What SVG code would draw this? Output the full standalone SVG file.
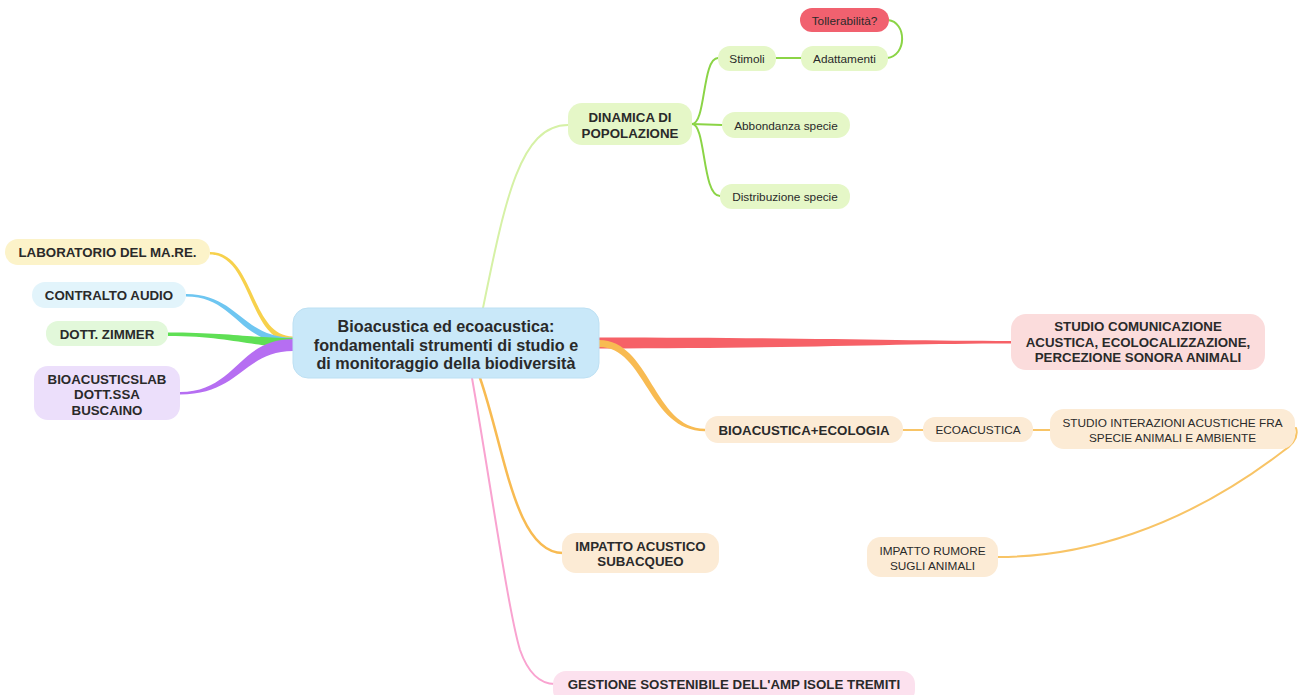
<svg xmlns="http://www.w3.org/2000/svg" width="1301" height="695" viewBox="0 0 1301 695">
<style>
text{font-family:"Liberation Sans",Arial,sans-serif;fill:#2a2a2a;text-anchor:middle}
.b{font-weight:bold;font-size:13.3px}
.s{font-size:11.8px}
.c{font-weight:bold;font-size:16.2px}
.line{fill:none;stroke-linecap:round}
</style>
<rect width="1301" height="695" fill="#ffffff"/>
<g id="connectors">
  <path d="M210,252 C255,252 250,336.5 293,336.5 L293,342 C248,342 252,254.5 210,254.5 Z" fill="#f7d14c"/>
  <path d="M186,294 C238,294 242,337.5 293,337.5 L293,344 C238,344 236,296.5 186,296.5 Z" fill="#6ec6f1"/>
  <path d="M168,332.5 C230,332.5 250,338 293,338 L293,347 C250,347 230,336 168,336 Z" fill="#5fdf55"/>
  <path d="M180,392 C236,392 238,339 293,339 L293,351 C244,351 240,394.5 180,394.5 Z" fill="#b66ef2"/>
  <path d="M599,337.5 C800,337.5 900,341 1011,341 L1011,343.5 C900,343.5 800,348.5 599,348.5 Z" fill="#f66167"/>
  <path d="M599,340 C650,340 654,428.8 705,428.8 L705,431.2 C648,431.2 646,347 599,347 Z" fill="#f8bb52"/>
  <path class="line" d="M483,308 C505,200 520,125 568,125" stroke="#d6f1a6" stroke-width="2"/>
  <path class="line" d="M692,124 C706,124 702,58 718,58" stroke="#8bd446" stroke-width="2"/>
  <path class="line" d="M692,124 L722,125" stroke="#8bd446" stroke-width="2"/>
  <path class="line" d="M692,124 C706,124 702,196 720,196" stroke="#8bd446" stroke-width="2"/>
  <path class="line" d="M776,58 L801,58" stroke="#8bd446" stroke-width="2"/>
  <path class="line" d="M887,58 C907,56 907,22 888,20" stroke="#8bd446" stroke-width="2"/>
  <path class="line" d="M903,430 L923,430" stroke="#f8c466" stroke-width="2"/>
  <path class="line" d="M1033,430 L1050,430" stroke="#f8c466" stroke-width="2"/>
  <path class="line" d="M1296,428 Q1300,440 1282,452 C1180,530 1080,557 998,557" stroke="#f8c466" stroke-width="2"/>
  <path class="line" d="M480,378 C505,450 515,553 563,553" stroke="#f8bb52" stroke-width="2.5"/>
  <path class="line" d="M472,378 C490,480 508,610 520,650 Q532,684 555,684" stroke="#f9a3d0" stroke-width="2"/>
</g>
<g id="central">
  <rect x="293" y="308" width="306" height="70" rx="15" fill="#c9e8f9" stroke="#bde0f3"/>
  <text class="c" x="446" y="332">Bioacustica ed ecoacustica:</text>
  <text class="c" x="446" y="350.5">fondamentali strumenti di studio e</text>
  <text class="c" x="446" y="369">di monitoraggio della biodiversità</text>
</g>
<g id="dinamica">
  <rect x="568" y="103" width="124" height="42" rx="14" fill="#e5f7c7"/>
  <text class="b" x="630" y="121.5">DINAMICA DI</text>
  <text class="b" x="630" y="137.5">POPOLAZIONE</text>
</g>
<g id="stimoli">
  <rect x="718" y="46" width="58" height="25" rx="12" fill="#e5f7c7"/>
  <text class="s" x="747" y="62.5">Stimoli</text>
</g>
<g id="adattamenti">
  <rect x="801" y="46" width="87" height="25" rx="12" fill="#e5f7c7"/>
  <text class="s" x="844.5" y="62.5">Adattamenti</text>
</g>
<g id="tollerabilita">
  <rect x="800" y="8" width="89" height="24" rx="12" fill="#f1616f"/>
  <text class="s" x="844.5" y="24.5">Tollerabilità?</text>
</g>
<g id="abbondanza">
  <rect x="722" y="112" width="128" height="26" rx="13" fill="#e5f7c7"/>
  <text class="s" x="786" y="129.5">Abbondanza specie</text>
</g>
<g id="distribuzione">
  <rect x="720" y="184" width="130" height="25" rx="12" fill="#e5f7c7"/>
  <text class="s" x="785" y="200.5">Distribuzione specie</text>
</g>
<g id="laboratorio">
  <rect x="5" y="239" width="205" height="26" rx="13" fill="#fcf3c9"/>
  <text class="b" x="107.5" y="257">LABORATORIO DEL MA.RE.</text>
</g>
<g id="contralto">
  <rect x="32" y="282" width="154" height="26" rx="13" fill="#e2f4fb"/>
  <text class="b" x="109" y="300">CONTRALTO AUDIO</text>
</g>
<g id="zimmer">
  <rect x="46" y="321" width="122" height="25" rx="12" fill="#e2f8da"/>
  <text class="b" x="107" y="338.5">DOTT. ZIMMER</text>
</g>
<g id="bioacusticslab">
  <rect x="34" y="366" width="146" height="54" rx="14" fill="#ecdffb"/>
  <text class="b" x="107" y="383.5">BIOACUSTICSLAB</text>
  <text class="b" x="107" y="399">DOTT.SSA</text>
  <text class="b" x="107" y="414.5">BUSCAINO</text>
</g>
<g id="studio-comunicazione">
  <rect x="1011" y="314" width="254" height="56" rx="15" fill="#fbdcdc"/>
  <text class="b" x="1138" y="331">STUDIO COMUNICAZIONE</text>
  <text class="b" x="1138" y="346.5">ACUSTICA, ECOLOCALIZZAZIONE,</text>
  <text class="b" x="1138" y="362">PERCEZIONE SONORA ANIMALI</text>
</g>
<g id="bioacustica-ecologia">
  <rect x="705" y="416" width="198" height="27" rx="13" fill="#fcebd5"/>
  <text class="b" x="804" y="434.5">BIOACUSTICA+ECOLOGIA</text>
</g>
<g id="ecoacustica">
  <rect x="923" y="417" width="110" height="25" rx="12" fill="#fcebd5"/>
  <text class="s" x="978" y="434">ECOACUSTICA</text>
</g>
<g id="studio-interazioni">
  <rect x="1050" y="409" width="245" height="40" rx="14" fill="#fcebd5"/>
  <text class="s" x="1172.5" y="427">STUDIO INTERAZIONI ACUSTICHE FRA</text>
  <text class="s" x="1172.5" y="442">SPECIE ANIMALI E AMBIENTE</text>
</g>
<g id="impatto-rumore">
  <rect x="867" y="537" width="131" height="40" rx="14" fill="#fcebd5"/>
  <text class="s" x="932.5" y="555">IMPATTO RUMORE</text>
  <text class="s" x="932.5" y="570">SUGLI ANIMALI</text>
</g>
<g id="impatto-acustico">
  <rect x="562" y="533" width="157" height="40" rx="14" fill="#fcebd5"/>
  <text class="b" x="640.5" y="550.5">IMPATTO ACUSTICO</text>
  <text class="b" x="640.5" y="566">SUBACQUEO</text>
</g>
<g id="gestione">
  <rect x="553" y="671" width="362" height="32" rx="13" fill="#fce1ee"/>
  <text class="b" x="734" y="689">GESTIONE SOSTENIBILE DELL'AMP ISOLE TREMITI</text>
</g>
</svg>
